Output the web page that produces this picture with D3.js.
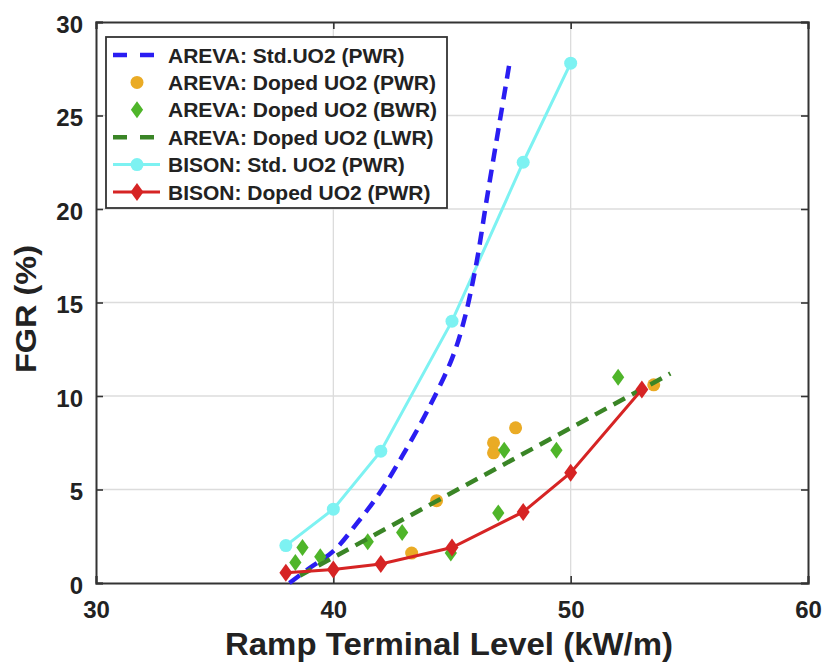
<!DOCTYPE html>
<html>
<head>
<meta charset="utf-8">
<script src="https://cdn.jsdelivr.net/npm/d3@7"></script>
<style>
  body { margin: 0; background: #fff; }
  svg text { font-family: "Liberation Sans", Arial, Helvetica, sans-serif; font-weight: bold; fill: #222; }
</style>
</head>
<body>
<svg id="chart" width="826" height="664"></svg>
<script>
// Axis ticks
const xTicks = [30, 40, 50, 60];
const yTicks = [0, 5, 10, 15, 20, 25, 30];

// AREVA: standard UO2 (PWR) fitted curve
const arevaStdX = [38.15, 39.0, 40.0, 41.0, 42.0, 43.0, 44.0, 45.0, 45.5, 46.0, 46.5, 47.0, 47.45];
const arevaStdY = [0.0, 0.8, 1.7, 3.2, 4.9, 7.0, 9.3, 12.0, 14.0, 16.9, 20.8, 24.6, 28.0];

// AREVA: doped UO2 (PWR) measurements
const arevaDopedPwrX = [43.3, 44.35, 46.75, 46.75, 47.68, 53.5];
const arevaDopedPwrY = [1.6, 4.4, 7.5, 6.96, 8.3, 10.6];

// AREVA: doped UO2 (BWR) measurements
const arevaDopedBwrX = [38.4, 38.7, 39.45, 41.45, 42.9, 44.95, 46.95, 47.2, 49.4, 52.0];
const arevaDopedBwrY = [1.1, 1.9, 1.4, 2.2, 2.7, 1.6, 3.75, 7.1, 7.1, 11.0];

// AREVA: doped UO2 (LWR) trend line
const arevaDopedLwrX = [38.6, 54.2];
const arevaDopedLwrY = [0.4, 11.2];

// BISON: standard UO2 (PWR)
const bisonStdX = [38, 40, 42, 45, 48, 50];
const bisonStdY = [2.0, 3.95, 7.05, 14.0, 22.5, 27.8];

// BISON: doped UO2 (PWR)
const bisonDopedX = [38, 40, 42, 45, 48, 50, 53];
const bisonDopedY = [0.55, 0.72, 1.02, 1.9, 3.8, 5.9, 10.35];

const legendLabels = [
  "AREVA: Std.UO2 (PWR)",
  "AREVA: Doped UO2 (PWR)",
  "AREVA: Doped UO2 (BWR)",
  "AREVA: Doped UO2 (LWR)",
  "BISON: Std. UO2 (PWR)",
  "BISON: Doped UO2 (PWR)"
];

const colors = {
  blue: "#2a1df2",
  orange: "#eaab25",
  green: "#4fb52a",
  darkGreen: "#3a8526",
  cyan: "#7df2f2",
  red: "#d62424"
};

const svg = d3.select("#chart");
const margin = { left: 96, right: 18, top: 22, bottom: 81 };
const W = 826, H = 664;
const x = d3.scaleLinear().domain([30, 60]).range([margin.left, W - margin.right]);
const y = d3.scaleLinear().domain([0, 30]).range([H - margin.bottom, margin.top]);

const zip = (xs, ys) => xs.map((v, i) => [v, ys[i]]);

// grid
const grid = svg.append("g");
grid.selectAll(".gx").data(xTicks.slice(1, -1)).join("line")
  .attr("x1", d => x(d)).attr("x2", d => x(d))
  .attr("y1", y(0)).attr("y2", y(30))
  .attr("stroke", "#dcdcdc").attr("stroke-width", 1.3);
grid.selectAll(".gy").data(yTicks.slice(1, -1)).join("line")
  .attr("x1", x(30)).attr("x2", x(60))
  .attr("y1", d => y(d)).attr("y2", d => y(d))
  .attr("stroke", "#dcdcdc").attr("stroke-width", 1.3);

// axes (inward ticks, closed box)
const axisColor = "#333";
const xAxis = svg.append("g").attr("transform", `translate(0,${y(0)})`)
  .call(d3.axisBottom(x).tickValues(xTicks).tickSize(-7).tickPadding(18).tickFormat(d3.format("d")));
const xAxisTop = svg.append("g").attr("transform", `translate(0,${y(30)})`)
  .call(d3.axisTop(x).tickValues(xTicks).tickSize(-7).tickFormat(""));
const yAxis = svg.append("g").attr("transform", `translate(${x(30)},0)`)
  .call(d3.axisLeft(y).tickValues(yTicks).tickSize(-7).tickPadding(13).tickFormat(d3.format("d")));
const yAxisR = svg.append("g").attr("transform", `translate(${x(60)},0)`)
  .call(d3.axisRight(y).tickValues(yTicks).tickSize(-7).tickFormat(""));
[xAxis, xAxisTop, yAxis, yAxisR].forEach(g => {
  g.select(".domain").attr("stroke", axisColor).attr("stroke-width", 2);
  g.selectAll(".tick line").attr("stroke", axisColor).attr("stroke-width", 1.6);
  g.selectAll("text").attr("font-size", 24).attr("fill", "#222")
    .style("font-family", "'Liberation Sans', Arial, sans-serif").style("font-weight", "bold");
});
yAxis.selectAll("text").attr("dy", "0.42em");

// data layers
const plot = svg.append("g");
const line = d3.line().x(d => x(d[0])).y(d => y(d[1]));
const diamond = (cx, cy, r) => `M${cx},${cy - r}L${cx + r * 0.72},${cy}L${cx},${cy + r}L${cx - r * 0.72},${cy}Z`;

// BISON std line + circles
plot.append("path").datum(zip(bisonStdX, bisonStdY))
  .attr("d", line).attr("fill", "none").attr("stroke", colors.cyan).attr("stroke-width", 3);
plot.selectAll(".bs").data(zip(bisonStdX, bisonStdY)).join("circle")
  .attr("cx", d => x(d[0])).attr("cy", d => y(d[1])).attr("r", 6.5).attr("fill", colors.cyan);

// AREVA std dashed curve
plot.append("path").datum(zip(arevaStdX, arevaStdY))
  .attr("d", d3.line().curve(d3.curveCatmullRom).x(d => x(d[0])).y(d => y(d[1])))
  .attr("fill", "none").attr("stroke", colors.blue).attr("stroke-width", 4.5)
  .attr("stroke-dasharray", "13,8");

// AREVA doped PWR dots
plot.selectAll(".ap").data(zip(arevaDopedPwrX, arevaDopedPwrY)).join("circle")
  .attr("cx", d => x(d[0])).attr("cy", d => y(d[1])).attr("r", 6.5).attr("fill", colors.orange);

// AREVA doped BWR diamonds
plot.selectAll(".ab").data(zip(arevaDopedBwrX, arevaDopedBwrY)).join("path")
  .attr("d", d => diamond(x(d[0]), y(d[1]), 8.5)).attr("fill", colors.green);

// AREVA doped LWR dashed trend
plot.append("path").datum(zip(arevaDopedLwrX, arevaDopedLwrY))
  .attr("d", line).attr("fill", "none").attr("stroke", colors.darkGreen).attr("stroke-width", 4.5)
  .attr("stroke-dasharray", "13,8");

// BISON doped line + diamonds
plot.append("path").datum(zip(bisonDopedX, bisonDopedY))
  .attr("d", line).attr("fill", "none").attr("stroke", colors.red).attr("stroke-width", 3);
plot.selectAll(".bd").data(zip(bisonDopedX, bisonDopedY)).join("path")
  .attr("d", d => diamond(x(d[0]), y(d[1]), 9)).attr("fill", colors.red);

// legend
const lg = svg.append("g");
lg.append("rect").attr("x", 106).attr("y", 37).attr("width", 341).attr("height", 171)
  .attr("fill", "#fff").attr("stroke", "#333").attr("stroke-width", 1.8);
const rowY = i => 55 + i * 27.4;
const sx0 = 113, sx1 = 160, smid = 137;
const items = lg.selectAll(".item").data(legendLabels).join("g");
items.append("text").attr("x", 168).attr("y", (d, i) => rowY(i)).attr("dy", "0.36em")
  .attr("font-size", 21).text(d => d);
// samples
lg.append("line").attr("x1", sx0).attr("x2", sx1).attr("y1", rowY(0)).attr("y2", rowY(0))
  .attr("stroke", colors.blue).attr("stroke-width", 4.5).attr("stroke-dasharray", "14,13");
lg.append("circle").attr("cx", smid).attr("cy", rowY(1)).attr("r", 6.5).attr("fill", colors.orange);
lg.append("path").attr("d", diamond(smid, rowY(2), 8.5)).attr("fill", colors.green);
lg.append("line").attr("x1", sx0).attr("x2", sx1).attr("y1", rowY(3)).attr("y2", rowY(3))
  .attr("stroke", colors.darkGreen).attr("stroke-width", 4.5).attr("stroke-dasharray", "14,13");
lg.append("line").attr("x1", sx0).attr("x2", sx1).attr("y1", rowY(4)).attr("y2", rowY(4))
  .attr("stroke", colors.cyan).attr("stroke-width", 3);
lg.append("circle").attr("cx", smid).attr("cy", rowY(4)).attr("r", 6.5).attr("fill", colors.cyan);
lg.append("line").attr("x1", sx0).attr("x2", sx1).attr("y1", rowY(5)).attr("y2", rowY(5))
  .attr("stroke", colors.red).attr("stroke-width", 3);
lg.append("path").attr("d", diamond(smid, rowY(5), 9)).attr("fill", colors.red);

// axis titles
svg.append("text").attr("x", 225).attr("y", 655)
  .attr("font-size", 32).attr("textLength", 448).attr("lengthAdjust", "spacingAndGlyphs")
  .text("Ramp Terminal Level (kW/m)");
svg.append("text").attr("transform", `translate(36,373) rotate(-90)`)
  .attr("font-size", 29).attr("textLength", 128).attr("lengthAdjust", "spacingAndGlyphs")
  .text("FGR (%)");
</script>
</body>
</html>
